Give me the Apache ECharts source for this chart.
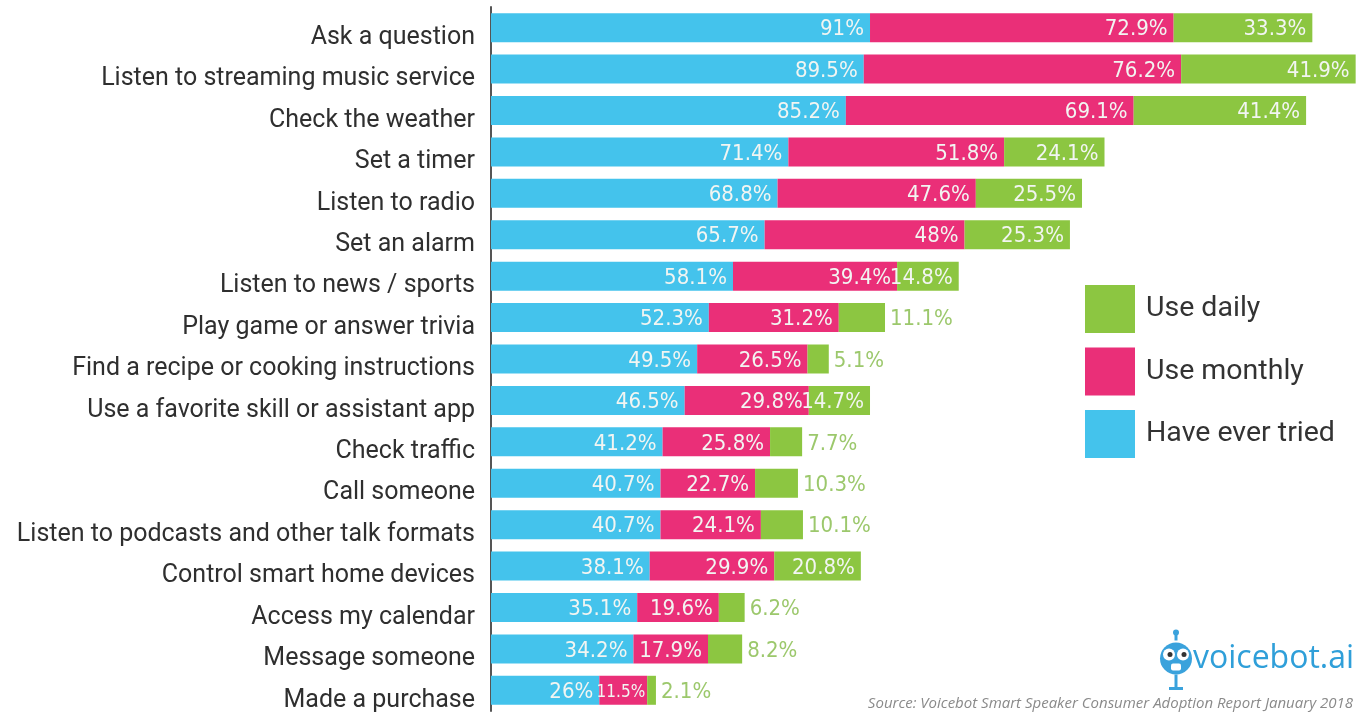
<!DOCTYPE html>
<html>
<head>
<meta charset="utf-8">
<script src="https://cdn.jsdelivr.net/npm/echarts@6/dist/echarts.min.js"></script>
<style>
html,body{margin:0;padding:0;background:#fff;}
#chart{width:1356px;height:715px;}
</style>
</head>
<body>
<div id="chart"></div>
<script>
var categories = [
  'Ask a question',
  'Listen to streaming music service',
  'Check the weather',
  'Set a timer',
  'Listen to radio',
  'Set an alarm',
  'Listen to news / sports',
  'Play game or answer trivia',
  'Find a recipe or cooking instructions',
  'Use a favorite skill or assistant app',
  'Check traffic',
  'Call someone',
  'Listen to podcasts and other talk formats',
  'Control smart home devices',
  'Access my calendar',
  'Message someone',
  'Made a purchase'
];
var everTried = [91, 89.5, 85.2, 71.4, 68.8, 65.7, 58.1, 52.3, 49.5, 46.5, 41.2, 40.7, 40.7, 38.1, 35.1, 34.2, 26];
var useMonthly = [72.9, 76.2, 69.1, 51.8, 47.6, 48, 39.4, 31.2, 26.5, 29.8, 25.8, 22.7, 24.1, 29.9, 19.6, 17.9, 11.5];
var useDaily = [33.3, 41.9, 41.4, 24.1, 25.5, 25.3, 14.8, 11.1, 5.1, 14.7, 7.7, 10.3, 10.1, 20.8, 6.2, 8.2, 2.1];
var seriesNames = ['Have ever tried', 'Use monthly', 'Use daily'];
var legendOrder = ['Use daily', 'Use monthly', 'Have ever tried'];
var sourceText = 'Source: Voicebot Smart Speaker Consumer Adoption Report January 2018';
var logoText = 'voicebot.ai';

var BLUE = '#44c3ec', PINK = '#ea2f78', GREEN = '#8cc641';
var LABEL_FONT = '"DejaVu Sans Condensed","Liberation Sans Narrow",sans-serif';

var insideLabel = {
  show: true, position: 'insideRight', distance: 6, offset: [0, 2],
  formatter: '{c}%', color: '#f2f5f2',
  fontFamily: LABEL_FONT, fontSize: 22
};

var monthlyData = useMonthly.map(function (v) {
  if (v < 15) {
    return { value: v, label: { fontSize: 17, distance: 2 } };
  }
  return v;
});

var dailyData = useDaily.map(function (v) {
  if (v < 12) {
    return { value: v, label: { position: 'right', distance: 5, color: '#9cc86c' } };
  }
  return v;
});

var chart = echarts.init(document.getElementById('chart'), null, { renderer: 'canvas' });
chart.setOption({
  animation: false,
  backgroundColor: '#ffffff',
  grid: { left: 491, top: 7, width: 833, height: 704, containLabel: false },
  xAxis: {
    type: 'value', min: 0, max: 200,
    show: false
  },
  yAxis: {
    type: 'category', data: categories, inverse: true,
    axisLine: { show: true, lineStyle: { color: '#555', width: 2 } },
    axisTick: { show: false },
    axisLabel: { margin: 16, color: '#2f2f2f', fontSize: 25, fontFamily: 'Roboto, sans-serif',
      verticalAlign: 'top', lineHeight: 20 },
    splitLine: { show: false }
  },
  legend: {
    data: legendOrder, orient: 'vertical', left: 1080, top: 280,
    itemWidth: 50, itemHeight: 48, itemGap: 14.5,
    icon: 'rect',
    textStyle: { fontSize: 28.5, color: '#333', fontFamily: 'Roboto, sans-serif', padding: [0, 0, 0, 6] },
    selectedMode: false
  },
  series: [
    { name: seriesNames[0], type: 'bar', stack: 'a', barWidth: 29, data: everTried,
      itemStyle: { color: BLUE }, label: insideLabel, clip: false },
    { name: seriesNames[1], type: 'bar', stack: 'a', barWidth: 29, data: monthlyData,
      itemStyle: { color: PINK }, label: insideLabel, clip: false },
    { name: seriesNames[2], type: 'bar', stack: 'a', barWidth: 29, data: dailyData,
      itemStyle: { color: GREEN }, label: insideLabel, clip: false }
  ],
  graphic: [
    { type: 'text', right: 3, top: 696,
      style: { text: sourceText, fill: '#8a8a8a', font: 'italic 15px "Open Sans", sans-serif' } },
    { type: 'group', left: 1160, top: 628, children: [
      { type: 'line', shape: { x1: 13, y1: 0, x2: 13, y2: 10 }, style: { stroke: '#3aa2dc', lineWidth: 3 } },
      { type: 'circle', shape: { cx: 13, cy: 2, r: 3 }, style: { fill: '#3aa2dc' } },
      { type: 'circle', shape: { cx: 13, cy: 28, r: 16 }, style: { fill: '#3aa2dc' } },
      { type: 'circle', shape: { cx: 6, cy: 24, r: 6 }, style: { fill: '#fff' } },
      { type: 'circle', shape: { cx: 20, cy: 24, r: 6 }, style: { fill: '#fff' } },
      { type: 'circle', shape: { cx: 7, cy: 24, r: 2.5 }, style: { fill: '#333' } },
      { type: 'circle', shape: { cx: 21, cy: 24, r: 2.5 }, style: { fill: '#333' } },
      { type: 'rect', shape: { x: 8, y: 33, width: 10, height: 7, r: 2 }, style: { fill: '#fff' } },
      { type: 'line', shape: { x1: 13, y1: 44, x2: 13, y2: 58 }, style: { stroke: '#3aa2dc', lineWidth: 3 } },
      { type: 'line', shape: { x1: 6, y1: 58, x2: 20, y2: 58 }, style: { stroke: '#3aa2dc', lineWidth: 3 } }
    ]},
    { type: 'text', left: 1193, top: 643,
      style: { text: logoText, fill: '#2f9fd9', font: '32px "Open Sans", sans-serif' } }
  ]
});
</script>
</body>
</html>
